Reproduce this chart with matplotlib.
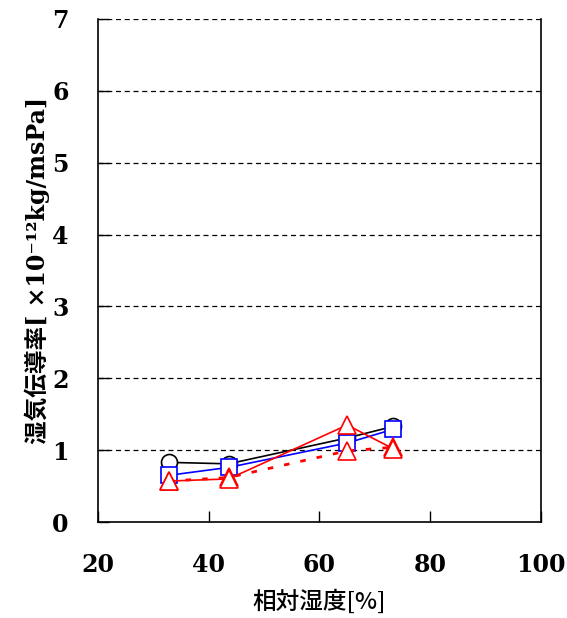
import matplotlib.pyplot as plt

# relative humidity [%] and moisture conductivity [x10^-12 kg/msPa]
rh = [32.8, 43.6, 65.0, 73.3]
circ = [0.83, 0.81, 1.17, 1.33]
sq = [0.65, 0.76, 1.10, 1.29]
tri = [0.57, 0.60, 1.35, 1.02]
tri_dot = [0.57, 0.62, 0.99, 1.04]

xticks = [20, 40, 60, 80, 100]
yticks = [0, 1, 2, 3, 4, 5, 6, 7]

fig = plt.figure(figsize=(5.67, 6.18), dpi=100)
ax = fig.add_axes([0.1728, 0.1553, 0.9541 - 0.1728, 0.9693 - 0.1553])

# dashed grid lines
for y in yticks[1:]:
    ax.axhline(y, color='black', linestyle=(0, (4, 3)), linewidth=0.9, zorder=1)

ax.plot(rh, circ, color='black', linewidth=1.2, marker='o', markersize=11.5,
        markerfacecolor='white', markeredgecolor='black', markeredgewidth=1.2, zorder=3)
ax.plot(rh, sq, color='blue', linewidth=1.2, marker='s', markersize=11.5,
        markerfacecolor='white', markeredgecolor='blue', markeredgewidth=1.2, zorder=4)
ax.plot(rh, tri_dot, color='red', linewidth=2, linestyle=(0, (2, 4)), marker='^', markersize=13,
        markerfacecolor='white', markeredgecolor='red', markeredgewidth=1.2, zorder=5)
ax.plot(rh, tri, color='red', linewidth=1.2, marker='^', markersize=13,
        markerfacecolor='white', markeredgecolor='red', markeredgewidth=1.2, zorder=6)

ax.set_xlim(20, 100)
ax.set_ylim(0, 7)
ax.set_xticks(xticks)
ax.set_yticks(yticks)
ax.spines['top'].set_visible(False)
for s in ['left', 'right', 'bottom']:
    ax.spines[s].set_linewidth(1.2)
ax.tick_params(axis='both', direction='in', length=8, width=1)
ax.tick_params(axis='x', pad=22)
ax.tick_params(axis='y', pad=21)
for lab in ax.get_xticklabels() + ax.get_yticklabels():
    lab.set_family('DejaVu Serif')
    lab.set_fontweight('bold')
    lab.set_fontsize(17)

ax.set_xlabel('相対湿度[%]', family=['Noto Sans CJK JP', 'DejaVu Sans'], fontweight='medium',
              fontsize=17, labelpad=9)
ax.set_ylabel('湿気伝導率[ ×10⁻¹²kg/msPa]', family=['DejaVu Serif', 'Noto Sans CJK JP'],
              fontweight='bold', fontsize=17, labelpad=2)

fig.savefig('out.png', dpi=100)
